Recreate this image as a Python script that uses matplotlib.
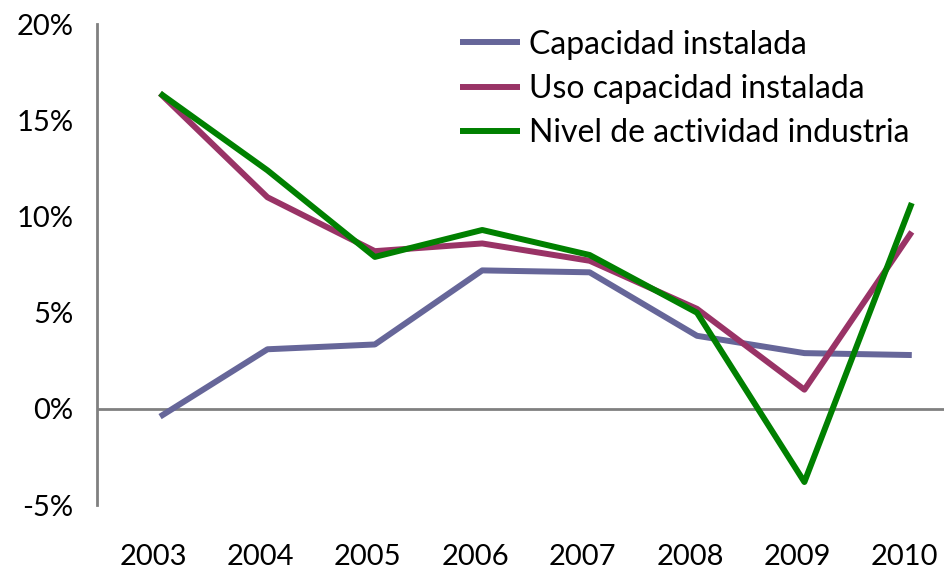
import matplotlib.pyplot as plt
from matplotlib.ticker import FuncFormatter
from matplotlib.transforms import ScaledTranslation

plt.rcParams['font.family'] = ['Lato', 'DejaVu Sans']

years = ['2003', '2004', '2005', '2006', '2007', '2008', '2009', '2010']
capacidad = [-0.4, 3.1, 3.35, 7.2, 7.1, 3.8, 2.9, 2.8]
uso = [16.4, 11.0, 8.2, 8.6, 7.7, 5.2, 1.0, 9.2]
nivel = [16.4, 12.4, 7.9, 9.3, 8.0, 5.0, -3.8, 10.7]

fig = plt.figure(figsize=(9.44, 5.74), dpi=100)
ax = fig.add_axes([0.1028, 0.12, 0.8972, 0.838])

x = range(len(years))
ax.plot(x, capacidad, color='#666699', linewidth=4.3, label='Capacidad instalada', solid_capstyle='butt')
ax.plot(x, uso, color='#993366', linewidth=4.3, label='Uso capacidad instalada', solid_capstyle='butt')
ax.plot(x, nivel, color='#008000', linewidth=4.3, label='Nivel de actividad industria', solid_capstyle='butt')

# zero line
ax.axhline(0, color='#808080', linewidth=2, zorder=0)

ax.set_xlim(-0.587, 7.30)
ax.set_ylim(-5, 20)
ax.set_yticks([-5, 0, 5, 10, 15, 20])
ax.yaxis.set_major_formatter(FuncFormatter(lambda v, p: f'{v:.0f}%'))
ax.set_xticks(list(x))
ax.set_xticklabels(years)
ax.tick_params(axis='both', length=0, labelsize=21)
ax.tick_params(axis='y', pad=17)
ax.tick_params(axis='x', pad=28)

# year labels sit a little left of the points, like the original
shift = ScaledTranslation(-7 / 100, 0, fig.dpi_scale_trans)
for lbl in ax.get_xticklabels():
    lbl.set_transform(lbl.get_transform() + shift)

for s in ['top', 'right', 'bottom']:
    ax.spines[s].set_visible(False)
ax.spines['left'].set_color('#808080')
ax.spines['left'].set_linewidth(2)

ax.legend(loc='upper left', bbox_to_anchor=(0.413, 1.015), frameon=False, fontsize=23,
          handlelength=1.9, handletextpad=0.28, labelspacing=0.45, borderaxespad=0)

plt.savefig('out.png', dpi=100)
